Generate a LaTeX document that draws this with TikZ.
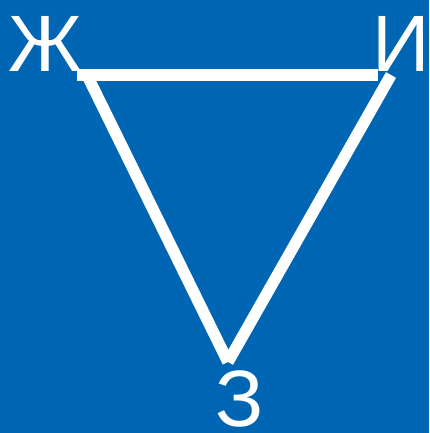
\documentclass[tikz,border=0pt]{standalone}
\usepackage{fontspec}
\setmainfont{Liberation Sans}
\definecolor{bgblue}{HTML}{0066B3}
\begin{document}
\begin{tikzpicture}[x=1pt,y=-1pt,
  lbl/.style={text=white,font=\fontsize{80}{80}\selectfont,inner sep=0pt,anchor=base},
  edge/.style={draw=white,line width=11.5pt,line cap=butt}]
\fill[bgblue] (0,0) rectangle (429,433);
\useasboundingbox (0,0) rectangle (429,433);
\node[lbl] (zh) at (45,72) {Ж};
\node[lbl] (i) at (401,72) {И};
\node[lbl] (z) at (240,426) {З};
\coordinate (a) at (77,75);
\coordinate (b) at (378,75);
\coordinate (c) at (87,75);
\coordinate (d) at (391,75);
\coordinate (v) at (228,362);
\draw[edge] (a) -- (b);
\draw[edge] (c) -- (v);
\draw[edge] (d) -- (v);
\end{tikzpicture}
\end{document}
